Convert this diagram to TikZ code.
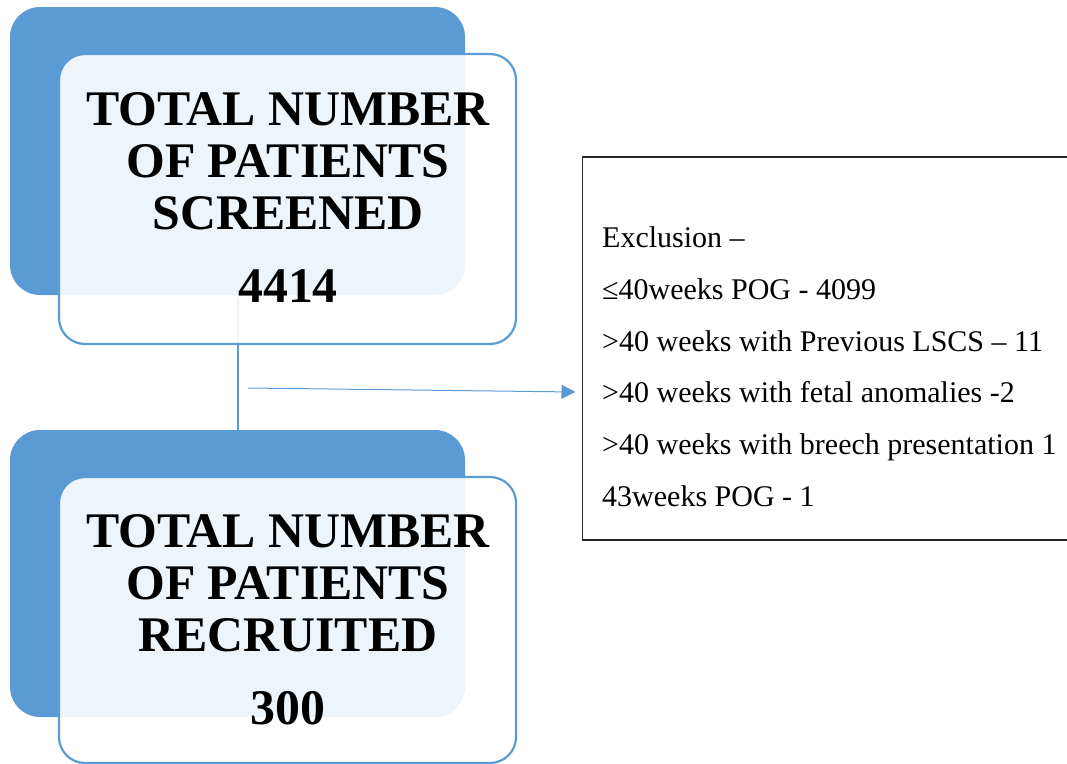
\documentclass[tikz,border=0pt]{standalone}
\usepackage{fontspec}
\setmainfont{Liberation Serif}
\usetikzlibrary{arrows.meta}
\definecolor{accent}{HTML}{5B9BD5}
\begin{document}
\begin{tikzpicture}[x=1pt,y=-1pt,
  backbox/.style={draw=none, fill=accent, rounded corners=30pt, inner sep=0pt, outer sep=0pt, anchor=north west},
  frontbox/.style={draw=accent, line width=2.2pt, fill=white, fill opacity=0.9, rounded corners=26pt, inner sep=0pt, outer sep=0pt, anchor=north west},
  exbox/.style={draw=black!85, line width=1.1pt, fill=white, inner sep=0pt, outer sep=0pt, anchor=north west},
  title/.style={font=\fontsize{49.8}{52}\selectfont\bfseries, inner sep=0pt, anchor=base},
  item/.style={font=\fontsize{30}{32}\selectfont, inner sep=0pt, anchor=base west},
  link/.style={draw=accent, line width=2pt},
  arr/.style={draw=accent, line width=1pt, -{Triangle[length=14pt,width=14pt]}}
]
\useasboundingbox (0,0) rectangle (1067,763);

% background blue boxes
\node[backbox, minimum width=455pt, minimum height=288pt] (b1) at (10,7) {};
\node[backbox, minimum width=455pt, minimum height=287pt] (b2) at (10,430) {};

% connector (under the front boxes)
\coordinate (l1) at (238,298);
\draw[link] (l1) -- (b2.north -| l1);

% front boxes
\node[frontbox, minimum width=457pt, minimum height=290pt] (f1) at (59,54) {};
\node[frontbox, minimum width=457pt, minimum height=286pt] (f2) at (59,477) {};

% titles
\node[title] (t1a) at (288,125) {TOTAL NUMBER};
\node[title] (t1b) at (288,177) {OF PATIENTS};
\node[title] (t1c) at (288,229) {SCREENED};
\node[title] (n1) at (288,302) {4414};

\node[title] (t2a) at (288,547) {TOTAL NUMBER};
\node[title] (t2b) at (288,599) {OF PATIENTS};
\node[title] (t2c) at (288,651) {RECRUITED};
\node[title] (n2) at (288,724) {300};

% exclusion box
\node[exbox, minimum width=486pt, minimum height=383pt] (ex) at (582.5,157) {};
\node[item] (e1) at (602,247) {Exclusion –};
\node[item] (e2) at (602,299) {≤40weeks POG - 4099};
\node[item] (e3) at (602,351) {>40 weeks with Previous LSCS – 11};
\node[item] (e4) at (602,402) {>40 weeks with fetal anomalies -2};
\node[item] (e5) at (602,454) {>40 weeks with breech presentation 1};
\node[item] (e6) at (602,506) {43weeks POG - 1};

% arrow to exclusion box
\coordinate (a0) at (248,388);
\coordinate (ay) at (0,392);
\draw[arr] (a0) -- ([xshift=-7pt]ex.west |- ay);
\end{tikzpicture}
\end{document}
